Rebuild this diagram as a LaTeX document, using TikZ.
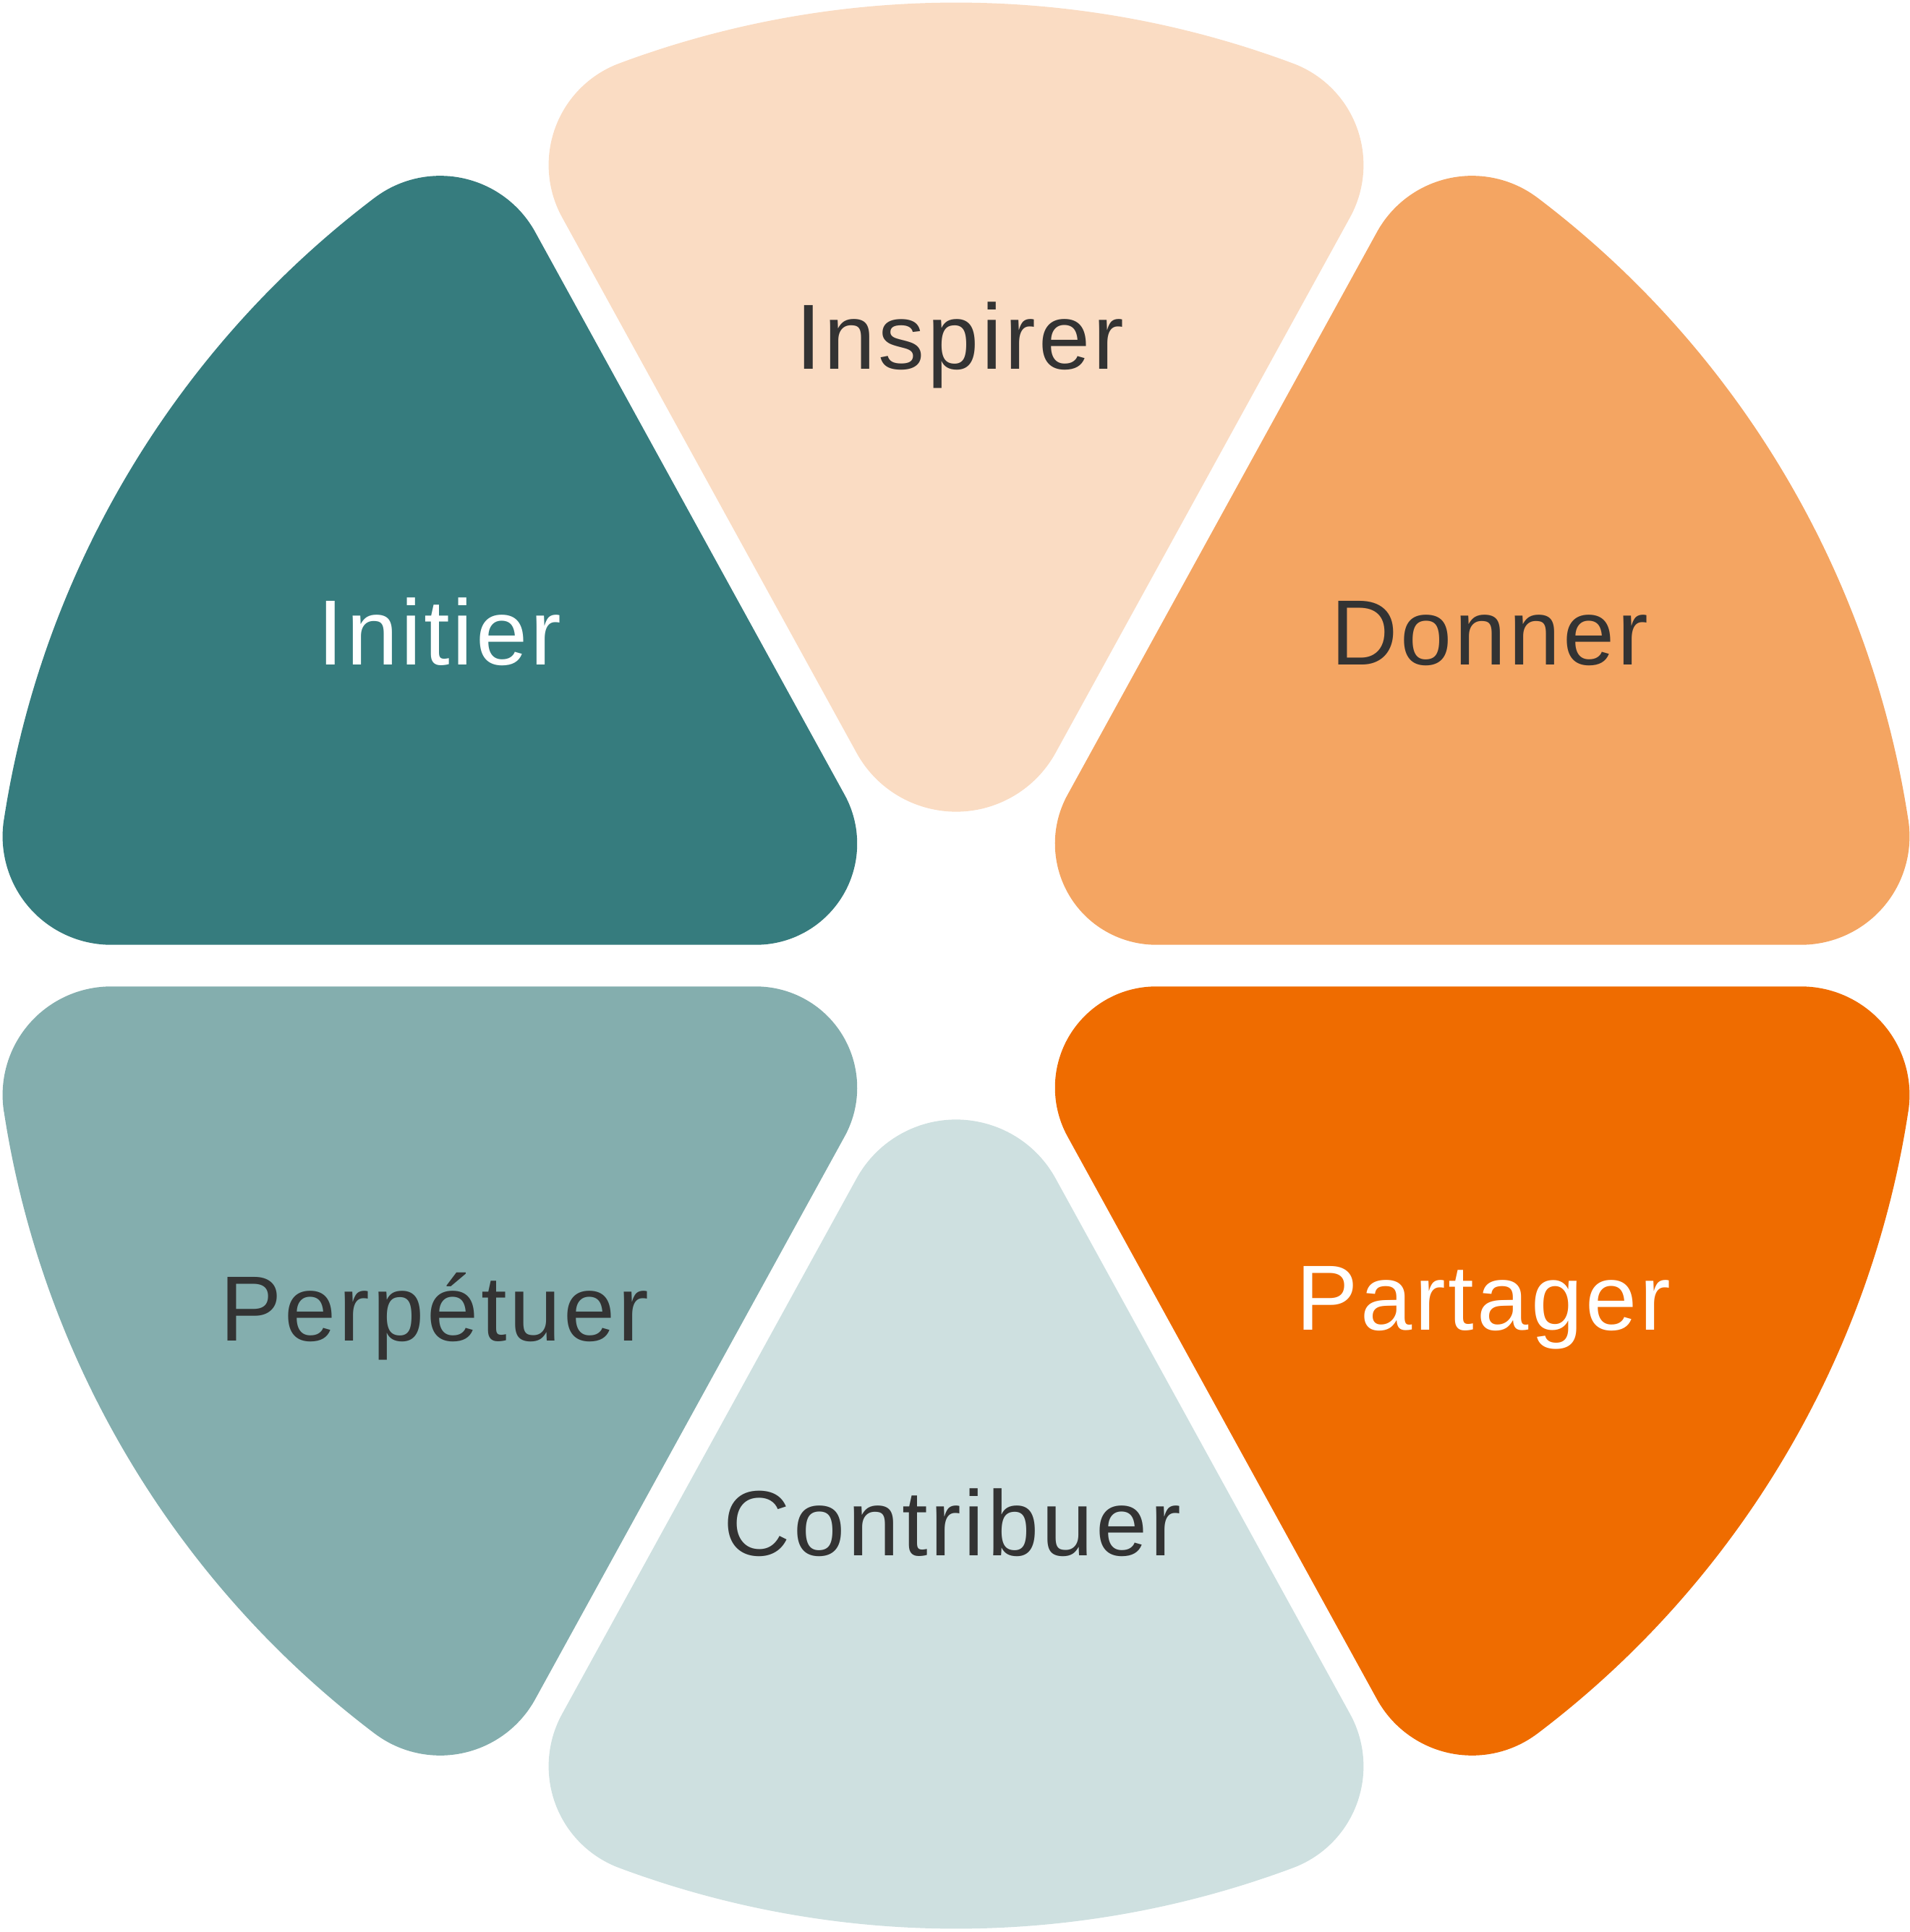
\documentclass[tikz,border=0pt]{standalone}
\usepackage{fontspec}
\setmainfont[LetterSpace=3]{Liberation Sans}
\definecolor{cInspirer}{HTML}{FADCC3}
\definecolor{cDonner}{HTML}{F4A562}
\definecolor{cPartager}{HTML}{EF6C00}
\definecolor{cContribuer}{HTML}{CEE0E0}
\definecolor{cPerpetuer}{HTML}{84AEAE}
\definecolor{cInitier}{HTML}{367C7E}
\definecolor{cText}{HTML}{333333}
\def\Rout{13.32}
% #1 a1, #2 a2, #3 h1, #4 h2, #5 rt, #6 rc, #7 colour
\newcommand{\petal}[7]{%
  \pgfmathsetmacro\Ra{\Rout-#6}%
  \pgfmathsetmacro\ta{sqrt(\Ra*\Ra-(#3+#6)*(#3+#6))}%
  \pgfmathsetmacro\tb{sqrt(\Ra*\Ra-(#4+#6)*(#4+#6))}%
  \pgfmathsetmacro\phia{#1+atan((#3+#6)/\ta)}%
  \pgfmathsetmacro\phib{#2-atan((#4+#6)/\tb)}%
  \pgfmathsetmacro\kA{#3+#5}%
  \pgfmathsetmacro\kB{#4+#5}%
  \pgfmathsetmacro\dt{sin(#1-#2)}%
  \pgfmathsetmacro\Px{(\kA*(-cos(#2))-cos(#1)*\kB)/\dt}%
  \pgfmathsetmacro\Py{((-sin(#1))*\kB-sin(#2)*\kA)/\dt}%
  % outer fillet centres
  \pgfmathsetmacro\Cax{\ta*cos(#1)-(#3+#6)*sin(#1)}%
  \pgfmathsetmacro\Cay{\ta*sin(#1)+(#3+#6)*cos(#1)}%
  \pgfmathsetmacro\Cbx{\tb*cos(#2)+(#4+#6)*sin(#2)}%
  \pgfmathsetmacro\Cby{\tb*sin(#2)-(#4+#6)*cos(#2)}%
  \fill[#7] ({\Cax+#6*cos(#1-90)},{\Cay+#6*sin(#1-90)})
    arc[start angle=#1-90, end angle=\phia, radius=#6]
    -- ({\Rout*cos(\phia)},{\Rout*sin(\phia)})
    arc[start angle=\phia, end angle=\phib, radius=\Rout]
    -- ({\Cbx+#6*cos(\phib)},{\Cby+#6*sin(\phib)})
    arc[start angle=\phib, end angle=#2+90, radius=#6]
    -- ({\Px-#5*sin(#2)},{\Py+#5*cos(#2)})
    arc[start angle=#2+90, end angle=#1+270, radius=#5]
    -- cycle;%
}
\tikzset{lbl/.style={anchor=base, inner sep=0pt, font=\fontsize{64}{64}\selectfont}}
\begin{document}
\begin{tikzpicture}[x=50pt,y=50pt]
\useasboundingbox (-13.22,-13.365) rectangle (13.18,13.355);
\petal{0}{61.2}{0.288}{0.212}{1.4}{1.5}{cDonner}
\petal{61.2}{118.8}{0.212}{0.212}{1.57}{1.5}{cInspirer}
\petal{118.8}{180}{0.212}{0.288}{1.4}{1.5}{cInitier}
\petal{180}{241.2}{0.288}{0.212}{1.4}{1.5}{cPerpetuer}
\petal{241.2}{298.8}{0.212}{0.212}{1.57}{1.5}{cContribuer}
\petal{298.8}{360}{0.212}{0.288}{1.4}{1.5}{cPartager}
\node[lbl, text=cText] (inspirer) at (0.05,8.245) {Inspirer};
\node[lbl, text=white] (initier) at (-7.14,4.155) {Initier};
\node[lbl, text=cText] (donner) at (7.38,4.155) {Donner};
\node[lbl, text=cText] (perpetuer) at (-7.21,-5.185) {Perpétuer};
\node[lbl, text=white] (partager) at (7.29,-5.035) {Partager};
\node[lbl, text=cText] (contribuer) at (-0.05,-8.155) {Contribuer};
\end{tikzpicture}
\end{document}
